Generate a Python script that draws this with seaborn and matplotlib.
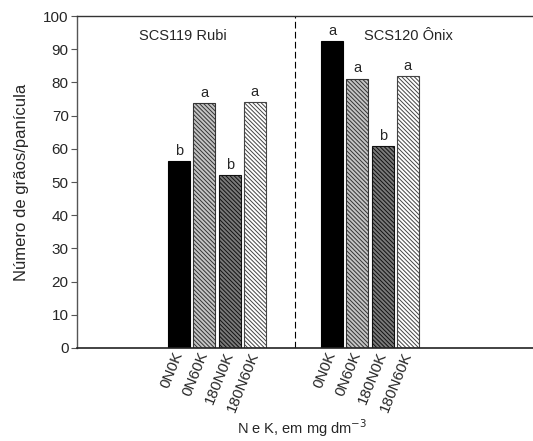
import matplotlib
matplotlib.use("Agg")
import matplotlib.pyplot as plt
import seaborn as sns
import pandas as pd
import numpy as np

cultivars = ["SCS119 Rubi", "SCS120 Ônix"]
treatments = ["0N0K", "0N60K", "180N0K", "180N60K"]
rubi_values = [56.3, 73.7, 52.1, 74.1]
onix_values = [92.4, 81.1, 60.8, 81.8]
rubi_letters = ["b", "a", "b", "a"]
onix_letters = ["a", "a", "b", "a"]
y_ticks = [0, 10, 20, 30, 40, 50, 60, 70, 80, 90, 100]

df = pd.DataFrame({
    "cultivar": [cultivars[0]] * 4 + [cultivars[1]] * 4,
    "trat": treatments * 2,
    "valor": rubi_values + onix_values,
})
letters = {cultivars[0]: rubi_letters, cultivars[1]: onix_letters}

sns.set_style("white")
plt.rcParams["font.family"] = ["Liberation Sans", "DejaVu Sans"]
plt.rcParams["hatch.linewidth"] = 0.7

fig = plt.figure(figsize=(5.33, 4.41), dpi=100)
ax = fig.add_axes([0.1445, 0.2109, 0.8555, 0.7528])

face = ["black", "#c4c4c4", "#7a7a7a", "white"]
hatch_col = ["black", "#333333", "#111111", "#444444"]
hatches = [None, "\\" * 8, "\\" * 8, "\\" * 8]

sns.barplot(data=df, x="cultivar", y="valor", hue="trat", order=cultivars,
            hue_order=treatments, palette=dict(zip(treatments, face)),
            width=0.66, gap=0.13, legend=False, ax=ax, errorbar=None,
            edgecolor="black", linewidth=0.8)

tick_pos, tick_lab = [], []
for i, cont in enumerate(ax.containers):
    for j, p in enumerate(cont.patches):
        p.set_facecolor(face[i])
        if hatches[i]:
            p.set_hatch(hatches[i])
            p.set_edgecolor(hatch_col[i])
        xc = p.get_x() + p.get_width() / 2
        tick_pos.append(xc)
        tick_lab.append(treatments[i])
        ax.text(xc, p.get_height() + 1.0, letters[cultivars[j]][i],
                ha="center", va="bottom", fontsize=10.5)

order = np.argsort(tick_pos)
ax.set_xticks([tick_pos[k] for k in order])
ax.set_xticklabels([tick_lab[k] for k in order], rotation=68, ha="right",
                   va="center", rotation_mode="anchor", fontsize=11)
ax.tick_params(axis="x", length=0, pad=3)

ax.set_xlim(-0.915, 2.065)
ax.set_ylim(0, 100)
ax.set_yticks(y_ticks)
ax.tick_params(axis="y", length=4, width=0.8, direction="out", left=True,
               labelsize=11, pad=2, color="#555555")

ax.axvline(0.51, color="black", linestyle=(0, (6, 3)), linewidth=0.8)

ax.text(0.232, 0.94, cultivars[0], transform=ax.transAxes, ha="center",
        va="center", fontsize=10.5)
ax.text(0.726, 0.94, cultivars[1], transform=ax.transAxes, ha="center",
        va="center", fontsize=10.5)

ax.spines["left"].set_color("#555555")
ax.spines["left"].set_linewidth(1.0)
ax.spines["bottom"].set_color("#222222")
ax.spines["bottom"].set_linewidth(1.2)
ax.spines["top"].set_color("#333333")
ax.spines["top"].set_linewidth(1.0)
ax.spines["right"].set_visible(False)

ax.set_ylabel("Número de grãos/panícula", fontsize=12, labelpad=10)
ax.set_xlabel("N e K, em mg dm$^{-3}$", fontsize=10.5, va="center")
ax.xaxis.set_label_coords(0.493, -0.241)

fig.savefig("out.png", dpi=100)
